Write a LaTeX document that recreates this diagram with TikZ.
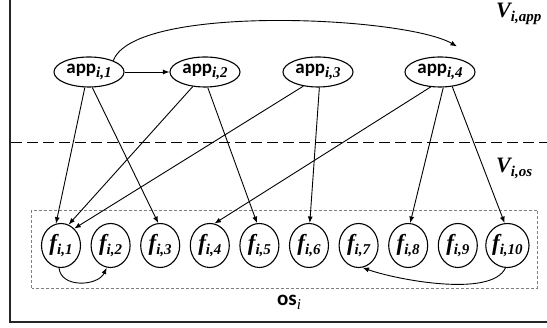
\documentclass[tikz,border=0pt]{standalone}
\usepackage{fontspec}
\newfontfamily\calib{Carlito}
\newfontfamily\tnr{Liberation Serif}
\usetikzlibrary{arrows.meta,shapes.geometric}

% labels: app_{i,k}, f_{i,k}
\newcommand{\appl}[1]{{\calib\bfseries\fontsize{19}{19}\selectfont app}\raisebox{-4pt}{\tnr\bfseries\itshape\fontsize{15}{15}\selectfont i,#1}}
\newcommand{\fl}[1]{{\tnr\bfseries\itshape\fontsize{23}{23}\selectfont f}\raisebox{-4pt}{\tnr\bfseries\itshape\fontsize{15}{15}\selectfont i,#1}}

\begin{document}
\begin{tikzpicture}[x=1pt,y=1pt,
  appnode/.style={ellipse,draw,line width=1.1pt,minimum width=70pt,minimum height=30pt,inner sep=0pt},
  fnode/.style={ellipse,draw,line width=1.1pt,minimum width=39pt,minimum height=44pt,inner sep=0pt},
  edge/.style={-{Latex[length=6.5pt,width=5pt]},line width=0.9pt},
  region/.style={inner sep=0pt,anchor=west}
]
\useasboundingbox (0,0) rectangle (547,328);

% outer frame (left and bottom sides)
\draw[line width=1.6pt,black!85] (10,330) -- (10,6) -- (548,6);
% separator between application layer and OS layer
\draw[line width=1pt,dash pattern=on 11pt off 5pt] (11,185) -- (547,185);
% OS container
\draw[gray,line width=0.8pt,dash pattern=on 3pt off 2pt] (31.5,40) rectangle (537,118);

% application nodes
\node[appnode] (a1) at (89,256) {\appl{1}};
\node[appnode] (a2) at (205,256) {\appl{2}};
\node[appnode] (a3) at (318,256) {\appl{3}};
\node[appnode] (a4) at (440,256) {\appl{4}};

% OS function nodes
\foreach \k in {1,...,10}
  \node[fnode] (f\k) at ({61+49.6*(\k-1)},82.5) {\fl{\k}};

% layer labels
\node[region] (vapp) at (496,314) {{\tnr\bfseries\itshape\fontsize{22}{22}\selectfont V}\raisebox{-4pt}{\tnr\bfseries\itshape\fontsize{15}{15}\selectfont i,app}};
\node[region] (vos) at (496,160) {{\tnr\bfseries\itshape\fontsize{22}{22}\selectfont V}\raisebox{-4pt}{\tnr\bfseries\itshape\fontsize{15}{15}\selectfont i,os}};
\node[inner sep=0pt] (os) at (289,26) {{\calib\bfseries\fontsize{21}{21}\selectfont os}\raisebox{-4pt}{\tnr\itshape\fontsize{15}{15}\selectfont i}};

% dependencies among applications
\draw[edge] (a1.east) -- (a2.west);
\draw[edge] (a1.25) to[out=70,in=150,looseness=0.45] ([xshift=17pt,yshift=10pt]a4.north);

% applications to OS functions
\draw[edge] (a1.-105) -- (f1.103);
\draw[edge] (a1.-78) -- (f3.95);
\draw[edge] (a2.-130) -- (f1.70);
\draw[edge] (a2.-80) -- (f5.96);
\draw[edge] (a3.-136) -- (f1.52);
\draw[edge] (a3.-85) -- (f6.88);
\draw[edge] (a4.-122) -- (f4.78);
\draw[edge] (a4.-78) -- (f8.85);
\draw[edge] (a4.-50) -- (f10.97);

% dependencies among OS functions
\draw[edge] (f1.-95) to[out=-85,in=-115,looseness=1.1] (f2.-100);
\draw[edge] (f10.-95) to[out=-115,in=-20,looseness=0.6] (f7.-80);
\end{tikzpicture}
\end{document}
